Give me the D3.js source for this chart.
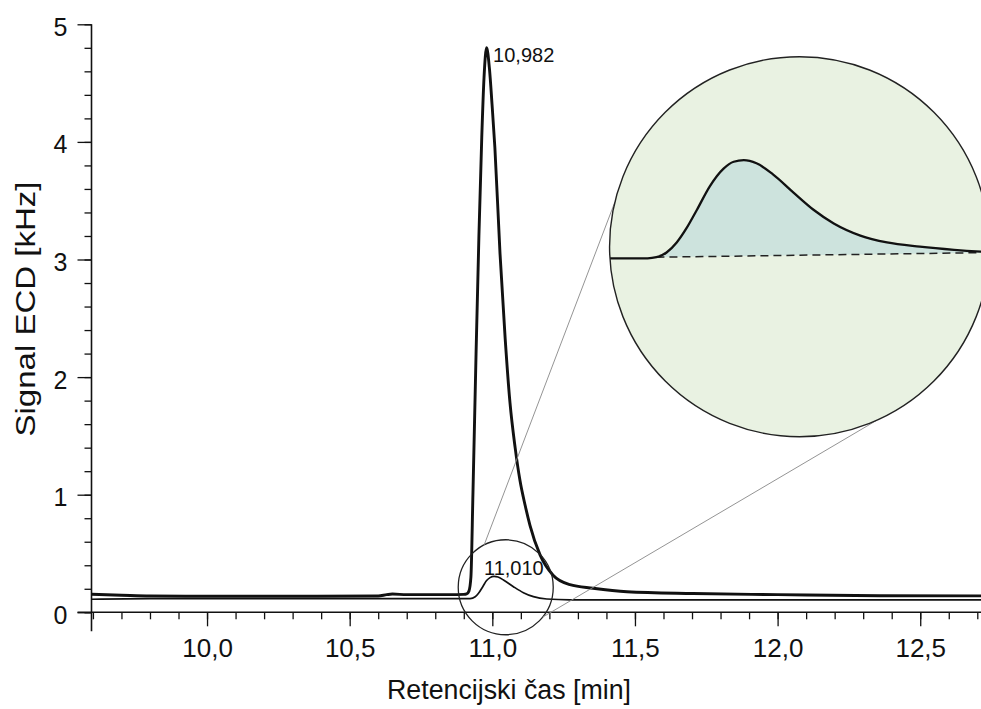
<!DOCTYPE html>
<html>
<head>
<meta charset="utf-8">
<script src="https://cdn.jsdelivr.net/npm/d3@7"></script>
<style>
  html, body { margin: 0; padding: 0; background: #fff; }
  svg { display: block; font-family: "Liberation Sans", Arial, sans-serif; }
</style>
</head>
<body>
<svg id="chart" width="981" height="709"></svg>
<script>
// thick trace (main peak)
const thickX = [9.595, 9.70, 9.80, 10.00, 10.30, 10.60, 10.63, 10.65, 10.70, 10.85, 10.90, 10.910, 10.918, 10.925, 10.932, 10.943, 10.953, 10.963, 10.971, 10.980, 10.990, 10.999, 11.009, 11.027, 11.045, 11.062, 11.080, 11.097, 11.115, 11.132, 11.167, 11.213, 11.272, 11.353, 11.472, 11.703, 12.000, 12.358, 12.713];
const thickY = [0.153, 0.145, 0.138, 0.136, 0.136, 0.139, 0.150, 0.155, 0.150, 0.150, 0.152, 0.156, 0.18, 0.30, 1.00, 2.20, 3.20, 4.04, 4.55, 4.80, 4.62, 4.32, 3.95, 3.05, 2.33, 1.78, 1.40, 1.12, 0.91, 0.74, 0.49, 0.315, 0.235, 0.205, 0.175, 0.16, 0.15, 0.141, 0.14];

// thin trace (small peak)
const thinX = [9.595, 9.80, 10.20, 10.60, 10.90, 10.922, 10.940, 10.951, 10.967, 10.980, 10.992, 11.006, 11.020, 11.039, 11.074, 11.109, 11.144, 11.191, 11.272, 11.50, 12.00, 12.713];
const thinY = [0.111, 0.116, 0.116, 0.116, 0.116, 0.117, 0.132, 0.16, 0.22, 0.27, 0.295, 0.305, 0.30, 0.275, 0.218, 0.167, 0.133, 0.113, 0.106, 0.105, 0.105, 0.105];

// magnified view of the small peak
const zoomX = [10.900, 10.930, 10.937, 10.945, 10.953, 10.961, 10.969, 10.979, 10.990, 10.998, 11.006, 11.016, 11.029, 11.045, 11.061, 11.077, 11.098, 11.119, 11.145, 11.172, 11.193, 11.204];
const zoomY = [0.120, 0.120, 0.122, 0.131, 0.150, 0.178, 0.212, 0.256, 0.290, 0.303, 0.306, 0.300, 0.279, 0.245, 0.212, 0.186, 0.163, 0.150, 0.142, 0.136, 0.1325, 0.131];

const peakLabels = ["10,982", "11,010"];
const xMajor = [10.0, 10.5, 11.0, 11.5, 12.0, 12.5];
const yMajor = [0, 1, 2, 3, 4, 5];

const width = 981, height = 709;
const margin = {top: 24.3, right: 0, bottom: 96.7, left: 91.5};
const fmt = d => d3.format(".1f")(d).replace(".", ",");

const svg = d3.select("#chart");

const x = d3.scaleLinear().domain([9.595, 12.713]).range([margin.left, width - margin.right]);
const y = d3.scaleLinear().domain([0, 5]).range([height - margin.bottom, margin.top]);

const line = (sx, sy) => d3.line()
    .x(d => sx(d[0]))
    .y(d => sy(d[1]))
    .curve(d3.curveMonotoneX);

const thick = thickX.map((v, i) => [v, thickY[i]]);
const thin = thinX.map((v, i) => [v, thinY[i]]);
const zoom = zoomX.map((v, i) => [v, zoomY[i]]);

// axes
const xAxisG = svg.append("g").attr("transform", "translate(0," + y(0) + ")");
xAxisG.call(d3.axisBottom(x).tickValues(x.ticks(30)).tickSize(7).tickFormat(""))
    .call(g => g.select(".domain").remove());
xAxisG.append("g").call(d3.axisBottom(x).tickValues(xMajor).tickSize(14).tickFormat(fmt))
    .call(g => g.select(".domain").remove());

const yAxisG = svg.append("g").attr("transform", "translate(" + x(9.595) + ",0)");
yAxisG.call(d3.axisLeft(y).tickValues(y.ticks(25)).tickSize(7).tickFormat(""))
    .call(g => g.select(".domain").remove());
yAxisG.append("g").call(d3.axisLeft(y).tickValues(yMajor).tickSize(14).tickFormat(d3.format("d")))
    .call(g => g.select(".domain").remove());

svg.selectAll(".tick line").attr("stroke", "#111").attr("stroke-width", 1.3);
xAxisG.selectAll(".tick text").attr("font-size", 26).attr("fill", "#111").attr("dy", "1.065em");
yAxisG.selectAll(".tick text").attr("font-size", 25).attr("fill", "#111").attr("x", -24).attr("dy", "0.44em");

svg.append("line")
    .attr("x1", x(9.595) - 14).attr("x2", width)
    .attr("y1", y(0)).attr("y2", y(0))
    .attr("stroke", "#111").attr("stroke-width", 1.6);
svg.append("line")
    .attr("x1", x(9.595)).attr("x2", x(9.595))
    .attr("y1", y(5)).attr("y2", y(0) + 19)
    .attr("stroke", "#111").attr("stroke-width", 1.6);

svg.append("text")
    .attr("x", 509).attr("y", 699)
    .attr("text-anchor", "middle")
    .attr("font-size", 27).attr("fill", "#111")
    .attr("textLength", 244).attr("lengthAdjust", "spacingAndGlyphs")
    .text("Retencijski čas [min]");
svg.append("text")
    .attr("transform", "translate(35," + 309 + ")rotate(-90)")
    .attr("text-anchor", "middle")
    .attr("font-size", 28).attr("fill", "#111")
    .attr("textLength", 255).attr("lengthAdjust", "spacingAndGlyphs")
    .text("Signal ECD [kHz]");

// traces
svg.append("path").datum(thin)
    .attr("d", line(x, y))
    .attr("fill", "none").attr("stroke", "#111").attr("stroke-width", 1.7);
svg.append("path").datum(thick)
    .attr("d", line(x, y))
    .attr("fill", "none").attr("stroke", "#111").attr("stroke-width", 2.9)
    .attr("stroke-linejoin", "round");

// peak labels
svg.append("text")
    .attr("x", x(10.980) + 6.5).attr("y", y(4.80) + 14.5)
    .attr("font-size", 20).attr("fill", "#111")
    .text(peakLabels[0]);
svg.append("text")
    .attr("x", x(11.006) - 10).attr("y", y(0.305) - 1)
    .attr("font-size", 20).attr("fill", "#111")
    .text(peakLabels[1]);

// zoom circles
const small = {cx: x(11.047), cy: y(0.213), r: 47.5};
const big = {cx: x(12.077), cy: y(3.109), r: 190};
const onCircle = (c, deg) => [c.cx + c.r * Math.cos(deg * Math.PI / 180), c.cy + c.r * Math.sin(deg * Math.PI / 180)];

svg.append("circle")
    .attr("cx", small.cx).attr("cy", small.cy).attr("r", small.r)
    .attr("fill", "none").attr("stroke", "#222").attr("stroke-width", 1.3);

[[-117, -166.4], [39, 66]].forEach(a => {
  const p1 = onCircle(small, a[0]), p2 = onCircle(big, a[1]);
  svg.append("line")
      .attr("x1", p1[0]).attr("y1", p1[1]).attr("x2", p2[0]).attr("y2", p2[1])
      .attr("stroke", "#888").attr("stroke-width", 0.9);
});

svg.append("clipPath").attr("id", "bigclip")
  .append("circle").attr("cx", big.cx).attr("cy", big.cy).attr("r", big.r);

svg.append("circle")
    .attr("cx", big.cx).attr("cy", big.cy).attr("r", big.r)
    .attr("fill", "#e9f2e2");

const zx = d3.scaleLinear().domain([10.90, 11.20]).range([big.cx - big.r, big.cx + big.r]);
const zy = d3.scaleLinear().domain([0.12, 0.30]).range([big.cy + 11.6, big.cy + 11.6 - 0.18 * 527.6]);

const inset = svg.append("g").attr("clip-path", "url(#bigclip)");
const peakPart = zoom.filter(d => d[0] >= 10.937);
inset.append("path")
    .attr("d", line(zx, zy)(peakPart) + "Z")
    .attr("fill", "#cde3dd").attr("stroke", "none");
inset.append("line")
    .attr("x1", zx(peakPart[0][0])).attr("y1", zy(peakPart[0][1]))
    .attr("x2", zx(peakPart[peakPart.length - 1][0])).attr("y2", zy(peakPart[peakPart.length - 1][1]))
    .attr("stroke", "#222").attr("stroke-width", 1.5).attr("stroke-dasharray", "8,5");
inset.append("path").datum(zoom)
    .attr("d", line(zx, zy))
    .attr("fill", "none").attr("stroke", "#111").attr("stroke-width", 2.3);

svg.append("circle")
    .attr("cx", big.cx).attr("cy", big.cy).attr("r", big.r)
    .attr("fill", "none").attr("stroke", "#222").attr("stroke-width", 1.4);
</script>
</body>
</html>
